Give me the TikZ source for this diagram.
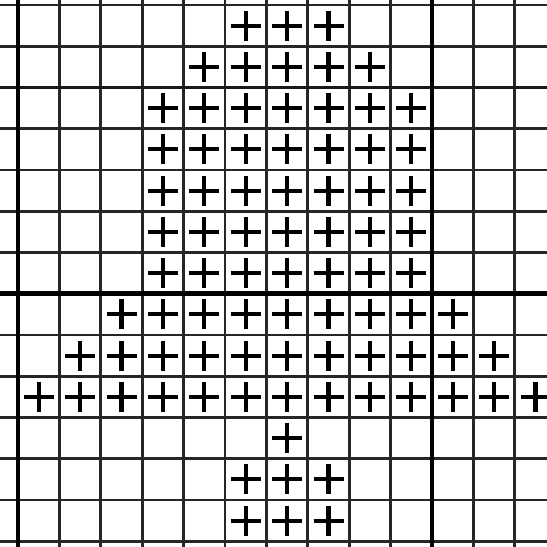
\documentclass[tikz,border=0pt]{standalone}
\usepackage{tikz}

\begin{document}
\begin{tikzpicture}[x=0.03cm, y=-0.03cm,
    gridline/.style={draw=black!85, line width=2.5pt},
    midline/.style={draw=black!90, line width=3.1pt},
    boldline/.style={draw=black, line width=4.2pt},
    stitch/.style={draw=black, line width=3.6pt}]
  \useasboundingbox (0,0) rectangle (547,546);
  \fill[white] (0,0) rectangle (547,546);
  \begin{scope}
    \clip (0,0) rectangle (547,546);
    % Grid: thin lines
    \foreach \k in {-1,...,13}
      \draw[gridline] ({18+41.4*\k},-10) -- ({18+41.4*\k},560);
    \foreach \r in {-1,...,14}
      \draw[gridline] (-10,{5+41.25*\r}) -- (560,{5+41.25*\r});
    % Grid: heavier lines
    \draw[midline] (-10,{5+41.25*2}) -- (560,{5+41.25*2});
    \draw[boldline] (-10,{5+41.25*7}) -- (560,{5+41.25*7});
    \draw[boldline] (18,-10) -- (18,560);
    \draw[boldline] ({18+41.4*10},-10) -- ({18+41.4*10},560);
    % Stitches: row / first column / last column
    \foreach \r/\a/\b in {0/5/7, 1/4/8, 2/3/9, 3/3/9, 4/3/9, 5/3/9, 6/3/9,
                          7/2/10, 8/1/11, 9/0/12, 10/6/6, 11/5/7, 12/5/7}
      \foreach \c in {\a,...,\b}
        \draw[stitch] ({18+41.4*(\c+0.5)-15},{5+41.25*(\r+0.5)})
                   -- ({18+41.4*(\c+0.5)+15},{5+41.25*(\r+0.5)})
                      ({18+41.4*(\c+0.5)},{5+41.25*(\r+0.5)-15})
                   -- ({18+41.4*(\c+0.5)},{5+41.25*(\r+0.5)+15});
  \end{scope}
\end{tikzpicture}
\end{document}
